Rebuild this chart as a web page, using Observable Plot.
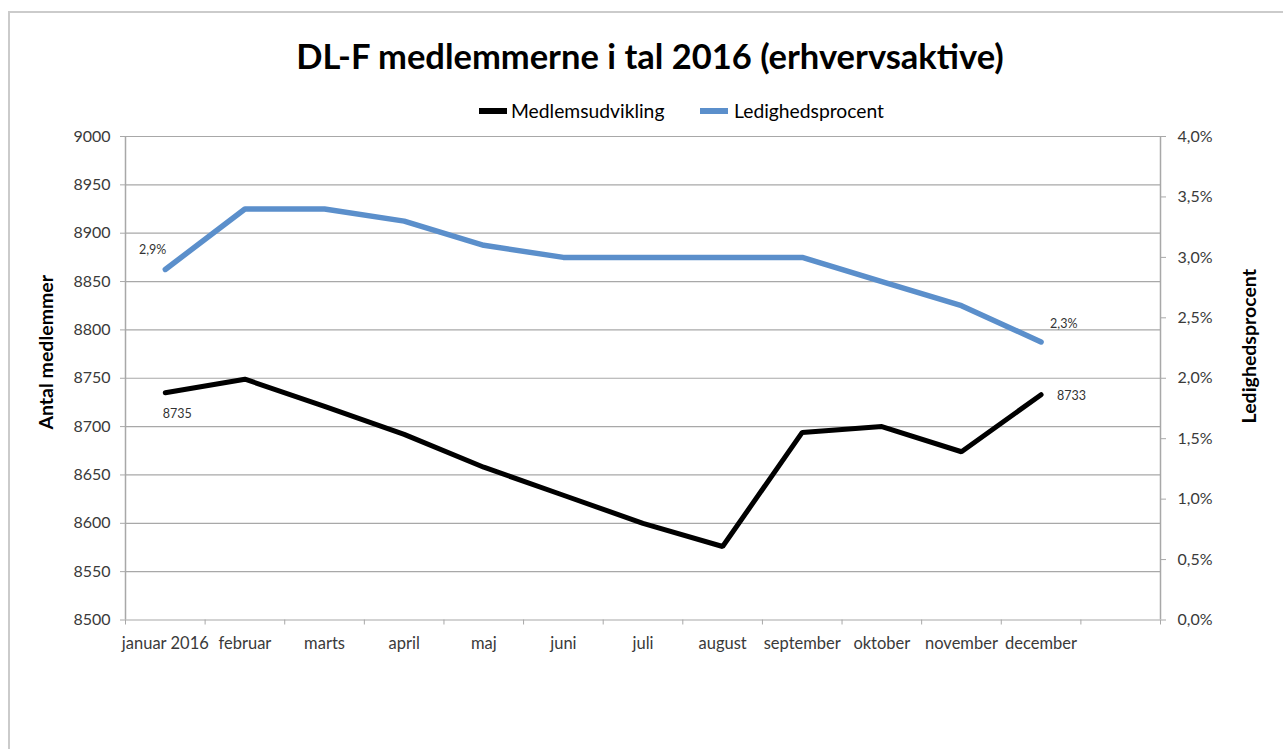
<!DOCTYPE html>
<html>
<head>
<meta charset="utf-8">
<script src="https://cdn.jsdelivr.net/npm/d3@7"></script>
<script src="https://cdn.jsdelivr.net/npm/@observablehq/plot@0.6"></script>
<style>
  html, body { margin: 0; padding: 0; background: #fff; }
  #wrap { position: relative; width: 1283px; height: 749px; overflow: hidden; font-family: Lato, "Open Sans", sans-serif; }
  #frame { position: absolute; left: 8px; top: 11px; width: 1400px; height: 900px; border-left: 2px solid #cbcbcb; border-top: 2px solid #cbcbcb; }
  #header { position: relative; height: 125px; }
  #title { position: absolute; top: 35px; left: 0; width: 1300px; text-align: center; font-weight: bold; font-size: 34.5px; color: #000; }
  .sw { position: absolute; top: 108px; width: 28px; height: 6px; }
  .lg { position: absolute; top: 99px; font-size: 19.3px; color: #000; }
  #chart { position: relative; }
</style>
</head>
<body>
<div id="wrap">
  <div id="frame"></div>
  <div id="header">
    <div id="title">DL-F medlemmerne i tal 2016 (erhvervsaktive)</div>
    <div class="sw" style="left:479px;background:#000;"></div>
    <div class="lg" style="left:511px;">Medlemsudvikling</div>
    <div class="sw" style="left:700px;background:#5b8fcb;"></div>
    <div class="lg" style="left:734px;">Ledighedsprocent</div>
  </div>
  <div id="chart"></div>
</div>
<script>
const months = ["januar 2016", "februar", "marts", "april", "maj", "juni", "juli", "august", "september", "oktober", "november", "december"];
const members = [8735, 8749, 8721, 8692, 8658, 8629, 8600, 8576, 8694, 8700, 8674, 8733];
const unemploymentPct = [2.9, 3.4, 3.4, 3.3, 3.1, 3.0, 3.0, 3.0, 3.0, 2.8, 2.6, 2.3];
const memberTicks = [8500, 8550, 8600, 8650, 8700, 8750, 8800, 8850, 8900, 8950, 9000];
const pctTicks = [0, 0.5, 1.0, 1.5, 2.0, 2.5, 3.0, 3.5, 4.0];
const slotCount = 13; // 12 months plus one empty category slot at the end

const yMin = 8500, yMax = 9000, pMax = 4.0;
const pToY = p => yMin + (p / pMax) * (yMax - yMin);
const yToP = y => (y - yMin) / (yMax - yMin) * pMax;
const fmtPct = p => p.toFixed(1).replace(".", ",") + "%";

const rows = months.map((m, i) => ({i, x: i + 0.5, month: m, members: members[i], pct: unemploymentPct[i], py: pToY(unemploymentPct[i])}));
const first = rows[0], last = rows[rows.length - 1];

const grid = "#a8a8a8";
const tickColor = "#3a3a3a";

const chart = Plot.plot({
  width: 1283,
  height: 624,
  marginLeft: 125,
  marginRight: 123,
  marginTop: 11,
  marginBottom: 129.5,
  style: {fontFamily: "Lato, 'Open Sans', sans-serif", background: "transparent", overflow: "visible"},
  x: {type: "linear", domain: [0, slotCount]},
  y: {domain: [yMin, yMax]},
  marks: [
    Plot.ruleY(memberTicks, {stroke: grid, strokeWidth: 1.2}),
    Plot.ruleX([0, slotCount], {stroke: grid, strokeWidth: 1.5}),
    Plot.axisY({ticks: memberTicks, tickSize: 5, tickPadding: 10, fontSize: 16, color: tickColor, stroke: grid, label: null, tickFormat: d => String(d)}),
    Plot.axisY({anchor: "right", ticks: pctTicks.map(pToY), tickSize: 5, tickPadding: 12, fontSize: 16, color: tickColor, stroke: grid, label: null, tickFormat: d => fmtPct(yToP(d))}),
    Plot.axisX({ticks: d3.range(0, slotCount + 1), tickSize: 5, tickFormat: () => "", stroke: grid, label: null}),
    Plot.axisX({ticks: rows.map(r => r.x), tickSize: 0, tickPadding: 17, fontSize: 16.5, color: tickColor, label: null, tickFormat: x => months[Math.floor(x)]}),
    Plot.line(rows, {x: "x", y: "py", stroke: "#5b8fcb", strokeWidth: 5.5, strokeLinejoin: "miter"}),
    Plot.line(rows, {x: "x", y: "members", stroke: "#000", strokeWidth: 5, strokeLinejoin: "miter"}),
    Plot.text([first], {x: "x", y: "py", text: d => fmtPct(d.pct), textAnchor: "end", dx: 1, dy: -19, fontSize: 12.5, fill: "#333"}),
    Plot.text([first], {x: "x", y: "members", text: d => String(d.members), textAnchor: "middle", dx: 12, dy: 21, fontSize: 12.5, fill: "#333"}),
    Plot.text([last], {x: "x", y: "py", text: d => fmtPct(d.pct), textAnchor: "start", dx: 9, dy: -18, fontSize: 12.5, fill: "#333"}),
    Plot.text([last], {x: "x", y: "members", text: d => String(d.members), textAnchor: "start", dx: 16, dy: 1, fontSize: 12.5, fill: "#333"}),
    Plot.text(["Antal medlemmer"], {frameAnchor: "left", textAnchor: "middle", dx: -79, dy: -26, rotate: -90, fontSize: 19.5, fontWeight: "bold", fill: "#000", text: d => d}),
    Plot.text(["Ledighedsprocent"], {frameAnchor: "right", textAnchor: "middle", dx: 89, dy: -32, rotate: -90, fontSize: 19.5, fontWeight: "bold", fill: "#000", text: d => d})
  ]
});
document.getElementById("chart").appendChild(chart);
</script>
</body>
</html>
